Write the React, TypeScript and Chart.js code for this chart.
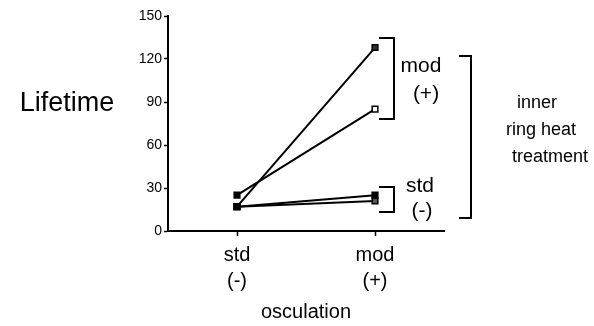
import React, { useEffect, useRef } from "react";
import { Chart, registerables } from "chart.js";

Chart.register(...registerables);

const categories: string[][] = [["std", "(-)"], ["mod", "(+)"]];
const seriesA: number[] = [25, 85];
const seriesB: number[] = [17, 128];
const seriesC: number[] = [17, 25];
const seriesD: number[] = [17, 21];
const yTicks: number[] = [0, 30, 60, 90, 120, 150];

const FONT = "Arial, 'Liberation Sans', sans-serif";

const annotations = {
  id: "annotations",
  afterDraw(chart: any) {
    const ctx = chart.ctx;
    const y = chart.scales.y;
    ctx.save();
    ctx.fillStyle = "#000";
    ctx.strokeStyle = "#000";
    ctx.lineWidth = 2;
    ctx.lineCap = "butt";
    const bracket = (x0: number, x1: number, v0: number, v1: number) => {
      const ya = Math.round(y.getPixelForValue(v0));
      const yb = Math.round(y.getPixelForValue(v1));
      ctx.beginPath();
      ctx.moveTo(x0, ya);
      ctx.lineTo(x1, ya);
      ctx.lineTo(x1, yb);
      ctx.lineTo(x0, yb);
      ctx.stroke();
    };
    bracket(379, 394, 134.5, 78);
    bracket(379, 394, 30.5, 13.5);
    bracket(459, 471, 122, 9);

    ctx.textAlign = "center";
    ctx.textBaseline = "middle";
    ctx.font = `27px ${FONT}`;
    ctx.fillText("Lifetime", 67, 104);
    ctx.font = `21px ${FONT}`;
    ctx.fillText("mod", 421, 66);
    ctx.fillText("(+)", 426, 94);
    ctx.fillText("std", 420, 186);
    ctx.fillText("(-)", 422, 211);
    ctx.font = `18px ${FONT}`;
    ctx.fillText("inner", 537, 103);
    ctx.fillText("ring heat", 541, 130);
    ctx.fillText("treatment", 550, 157);
    ctx.restore();
  },
};

const mkSet = (data: number[], bgEnd: string) => ({
  data,
  borderColor: "#000",
  borderWidth: 2,
  pointStyle: "rect" as const,
  pointRadius: 4,
  pointBorderWidth: 1.5,
  pointBorderColor: "#000",
  pointBackgroundColor: ["#000", bgEnd],
  fill: false,
  tension: 0,
});

export default function App() {
  const ref = useRef<HTMLCanvasElement>(null);
  useEffect(() => {
    if (!ref.current) return;
    const chart = new Chart(ref.current, {
      type: "line",
      data: {
        labels: categories as any,
        datasets: [
          mkSet(seriesC, "#000"),
          mkSet(seriesD, "#555"),
          mkSet(seriesA, "#fff"),
          mkSet(seriesB, "#333"),
        ],
      },
      options: {
        responsive: false,
        animation: false,
        devicePixelRatio: 1,
        layout: { padding: { left: 0, right: 150, top: 16, bottom: 0 } },
        plugins: { legend: { display: false }, tooltip: { enabled: false } },
        scales: {
          x: {
            type: "category",
            offset: true,
            afterFit: (s: any) => {
              s.height = 95;
            },
            border: { display: true, color: "#000", width: 2 },
            grid: {
              display: true,
              drawOnChartArea: false,
              drawTicks: true,
              tickLength: 5,
              tickColor: "#000",
              tickWidth: 1.5,
              offset: false,
            },
            ticks: {
              color: "#000",
              font: { family: FONT, size: 20, lineHeight: 1.3 },
              padding: 6,
              maxRotation: 0,
            },
            title: {
              display: true,
              text: "osculation",
              color: "#000",
              font: { family: FONT, size: 20 },
              padding: { top: 0, bottom: 2 },
            },
          },
          y: {
            min: 0,
            max: 150,
            afterFit: (s: any) => {
              s.width = 168;
            },
            afterBuildTicks: (s: any) => {
              s.ticks = yTicks.map((v) => ({ value: v }));
            },
            border: { display: true, color: "#000", width: 2 },
            grid: {
              display: true,
              drawOnChartArea: false,
              drawTicks: true,
              tickLength: 4,
              tickColor: "#000",
              tickWidth: 1.5,
            },
            ticks: {
              color: "#000",
              font: { family: FONT, size: 14 },
              padding: 2,
            },
          },
        },
      },
      plugins: [annotations],
    });
    return () => chart.destroy();
  }, []);
  return (
    <div style={{ position: "fixed", left: 0, top: 0, width: 594, height: 326, background: "#fff" }}>
      <canvas ref={ref} width={594} height={326} style={{ width: 594, height: 326 }} />
    </div>
  );
}
